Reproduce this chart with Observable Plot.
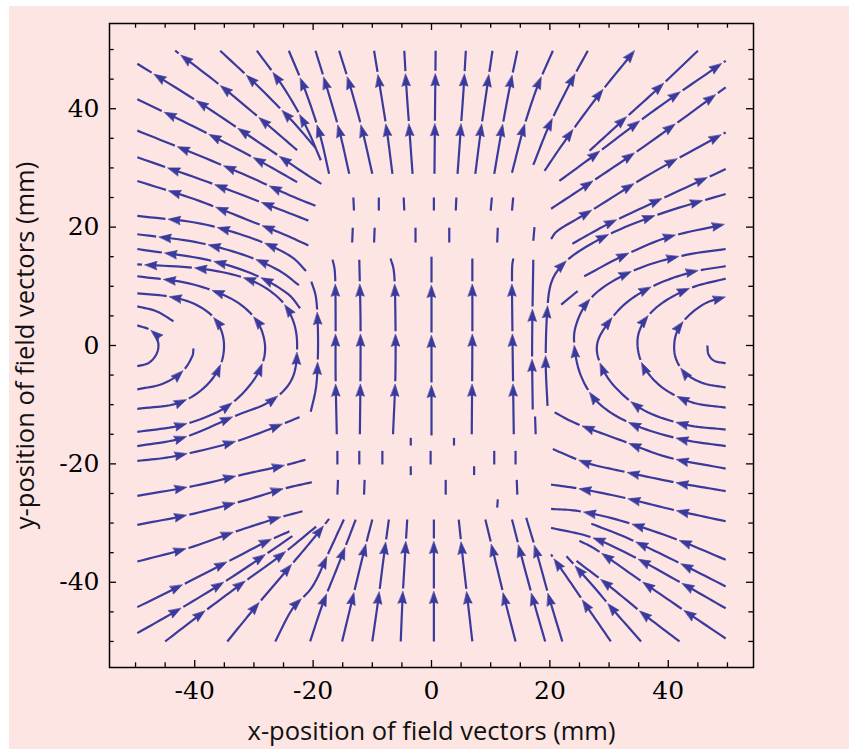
<!DOCTYPE html>
<html><head><meta charset="utf-8">
<script src="https://cdn.jsdelivr.net/npm/d3@7"></script>
<script src="https://cdn.jsdelivr.net/npm/@observablehq/plot@0.6"></script>
<style>
html,body{margin:0;padding:0;background:#fff;}
#wrap{position:relative;width:849px;height:749px;overflow:hidden;background:#fff;}
#bg{position:absolute;left:9px;top:6px;right:0;bottom:0;background:#fde5e4;}
#chart{position:absolute;left:0;top:0;}
</style></head><body>
<div id="wrap"><div id="bg"></div><div id="chart"></div></div>
<script>
// ---- tick values ----
const allTicks = [-50,-45,-40,-35,-30,-25,-20,-15,-10,-5,0,5,10,15,20,25,30,35,40,45,50];
const majorTicks = [-40,-20,0,20,40];
const xTickLabels = [-40,-20,0,20,40];
const yTickLabels = [-40,-20,0,20,40];
const xTitle = "x-position of field vectors (mm)";
const yTitle = "y-position of field vectors (mm)";

// ---- streamlines (mm), each listed in flow order ----
const centerTop = [
  [[-13.9,29],[-15.5,36],[-17.5,43],[-19.6,49.8]],
  [[-10,29],[-11.6,36],[-13.5,43],[-15.6,49.8]],
  [[-6.6,29],[-7.5,36],[-8.6,43],[-9.7,49.8]],
  [[-3.2,29],[-3.7,36],[-4.2,43],[-4.6,49.8]],
  [[0.5,29],[0.6,40],[0.7,49.8]],
  [[4.4,29],[4.9,36],[5.4,43],[5.8,49.8]],
  [[7.4,29],[8.3,36],[9.3,43],[10.3,49.8]],
  [[10.6,29],[11.8,36],[13.1,43],[14.5,49.8]],
  [[13.6,29.2],[15.5,36.5],[17.8,43.5],[20.5,49.8]]
];
const centerMiddle = [
  [[-20.4,-11.2],[-19.5,-7],[-19.2,-2],[-19.2,3],[-19.5,8],[-20.3,10.8]],
  [[-16,-15],[-16.2,-5],[-16.2,5],[-16.3,12],[-16.7,14.5]],
  [[-12.1,-15],[-12,-5],[-12,5],[-12.2,14.5]],
  [[-6.5,-15],[-6.1,-5],[-6.1,5],[-6.3,12],[-6.9,14.7]],
  [[0,-15.2],[0,0],[0,15]],
  [[6.8,-15],[6.9,0],[6.9,14.7]],
  [[13.9,-15],[13.7,0],[13.6,12],[13.8,14.7]],
  [[17.1,-10.8],[17,0],[17.2,14.5]],
  [[19.6,-10.2],[19.3,-3],[19.5,5],[20.2,10.5],[22.3,13.8],[26,16.6],[32,19.7],[40,22.7],[49.7,25.6]]
];
const centerBottom = [
  [[-15.1,-50],[-13.4,-43],[-11.7,-36],[-10,-29.4]],
  [[-10,-50],[-9,-43],[-8.1,-36],[-7.2,-29.4]],
  [[-5.2,-50],[-4.9,-43],[-4.5,-36],[-4.1,-29.4]],
  [[0.4,-50],[0.4,-29.4]],
  [[6.9,-50],[6.1,-43],[5.3,-36],[4.6,-29.4]],
  [[14.2,-50],[12.4,-43],[10.7,-36],[9.1,-29.4]],
  [[19.2,-50],[17.2,-43],[15.3,-36],[13.6,-29.4]],
  [[22.1,-50],[20,-43],[18,-35.8],[16,-29.1]]
];
const leftArcs = [
  [[-49.7,-3.5],[-47.7,-2.9],[-46.4,-1.3],[-46.2,0.6],[-47.3,2.5],[-49.7,3.4]],
  [[-49.7,-7.4],[-45.5,-6.5],[-42.2,-4.5],[-40.5,-2],[-40.2,-0.5]],
  [[-43.6,4.1],[-46.5,5.8],[-49.7,6.6]],
  [[-49.7,-10.7],[-43,-9.8],[-38.5,-7.2],[-35.7,-3.4],[-35.1,0.8],[-36.6,4.5],[-40,7],[-44.5,8.3],[-49.7,8.8]],
  [[-49.7,-14.6],[-42,-13.4],[-35,-10.6],[-30.6,-6.6],[-28.4,-2.5],[-28.3,1.2],[-30,4.8],[-34,8],[-41,10.5],[-49.7,11.7]],
  [[-49.7,-17],[-42,-15.6],[-33.4,-12],[-27,-9.3],[-23.5,-5.5],[-22.7,0],[-23.5,4.5],[-26,8.2],[-31,11.2],[-39,13],[-49.7,13.7]],
  [[-49.7,-19.5],[-43.3,-18.7],[-33.7,-16.4],[-27,-14],[-22.3,-12.1]]
];
const rightArcs = [
  [[49.7,-3],[47.8,-2.6],[46.8,-1.5],[46.6,0]],
  [[49.7,-7.1],[46,-6.4],[43,-4.8],[41.4,-2.5],[41,0],[41.6,2.6],[43.5,5.1],[46.4,7.2],[49.7,8.2]],
  [[49.7,-10.5],[44,-9.6],[39,-7.1],[35.7,-3.3],[34.8,0.8],[36,4.2],[39,7.2],[44,9.8],[49.7,11.3]],
  [[49.7,-14.2],[43,-13.4],[36,-11],[31,-7],[28.5,-3],[28,0.3],[29.7,3.6],[33,7.3],[38,10.3],[44,12.4],[49.7,13.4]],
  [[49.7,-17],[42,-15.8],[34,-13.3],[28.3,-9.8],[25.2,-5],[24.1,0.5],[24.6,4],[26.5,7.5],[30,10.5],[36,13.4],[43,15.3],[49.7,16.3]],
  [[49.7,-20.8],[40,-18.9],[31.7,-15.9],[24.5,-13.2],[20.8,-11.3]]
];
const upperLeftFan = [
  [[-17.3,29],[-18.9,35.8],[-21.3,43],[-24.1,49.8]],
  [[-18.7,31.3],[-21.3,37.2],[-25,43.6],[-29.5,49.8]],
  [[-19.6,33.4],[-23.6,38],[-29.3,43.8],[-35.7,49.8]],
  [[-22.7,33],[-29,38.4],[-36,44.2],[-43.3,49.8]],
  [[-18.6,27.3],[-21.6,29.2],[-29,34.2],[-39,40.9],[-49.7,47.6]],
  [[-22.7,27.6],[-30,31.7],[-40,36.9],[-49.7,41.6]],
  [[-19.6,23.6],[-24,25.4],[-31,28.6],[-40,32.4],[-49.7,36.3]],
  [[-20.8,21.1],[-28,23.9],[-38,27.7],[-49.7,31.8]],
  [[-20.8,16.9],[-25,18.8],[-32,21.6],[-40,24.7],[-49.7,27.8]],
  [[-21.2,12.6],[-24,15.2],[-30,18],[-39,20.6],[-49.7,21.9]],
  [[-22.4,10.2],[-26,12.8],[-32,15.4],[-40,17.5],[-49.7,18.8]],
  [[-22.2,6.3],[-24.5,8.9],[-30,12],[-38,14.5],[-49.7,16.3]]
];
const lowerLeftFan = [
  [[-49.7,-25.4],[-40,-23.7],[-31,-21.6],[-25,-20.3],[-21.3,-19.3]],
  [[-49.7,-30.3],[-41,-28.6],[-32,-26.3],[-25,-24.2],[-20.2,-23.1]],
  [[-49.7,-36.5],[-41,-34.2],[-33,-31.4],[-26.5,-29.3],[-21.8,-28]],
  [[-49.7,-44.2],[-42,-40.4],[-34,-36.3],[-28,-33.2],[-24,-31.4]],
  [[-49.7,-48.6],[-42,-44.2],[-34,-39.3],[-27,-34.6],[-23.5,-32.2]],
  [[-45,-50],[-39,-45.4],[-32,-40.2],[-25.5,-35.5],[-19.5,-30.6]],
  [[-34.5,-50],[-30,-44.5],[-25,-38.6],[-20.1,-32.8],[-17.3,-29.3]],
  [[-26.4,-50],[-23.5,-44.5],[-20.1,-40.7],[-17.2,-34.6],[-14.8,-29.4]],
  [[-20.5,-50],[-18.5,-44],[-15.8,-37.2],[-12.8,-29.4]]
];
const upperRightFan = [
  [[17.2,30.5],[19.8,37],[23,43.5],[26.4,49.8]],
  [[19.1,29.5],[22.5,34.5],[28,42],[34.3,49.8]],
  [[26.7,32.9],[32.5,38.2],[38.8,43.9],[45,49.8]],
  [[21.6,27.8],[28,32.5],[38,40],[49.7,48.1]],
  [[20.2,23.1],[27,27.6],[37,34.4],[49.7,43.6]],
  [[20.2,18],[21.6,19.6],[27,22.8],[37,29],[49.7,36]],
  [[23.8,17.2],[30,20.6],[40,25.3],[49.7,29.8]],
  [[25.8,11.7],[32.3,15.1],[40,18.3],[49.7,20.5]]
];
const lowerRightFan = [
  [[49.7,-24.6],[41,-23.1],[32,-21.2],[26.1,-19.8],[20.5,-17.5]],
  [[49.7,-29.7],[41,-27.8],[32,-25.6],[25,-24.2],[20.2,-23.5]],
  [[49.7,-36.2],[41,-32.6],[32,-29.6],[25,-28],[20.2,-27.6]],
  [[49.7,-40.7],[41,-36.3],[33,-32.5],[27,-30.1]],
  [[49.7,-44.4],[42,-40],[34,-35.6],[27,-32.4],[20.2,-30.8]],
  [[49.7,-49.5],[42,-44.3],[34,-38.8],[28,-34.6],[25,-33]],
  [[41.9,-50],[36,-45.5],[30,-40.6],[24.5,-36.4]],
  [[35.4,-50],[31,-45],[27,-40.3],[22.8,-35.6]],
  [[30.3,-50],[27,-45.2],[23.6,-40.2],[20.2,-35.3]]
];
const fragments = [
  [[-13.1,22.8],[-13.2,25]],[[-8.9,22.8],[-8.9,25]],[[-4.6,22.8],[-4.7,25]],[[0.4,22.8],[0.4,25]],
  [[4.1,22.8],[4.2,25]],[[10,22.8],[10.2,25]],[[13.6,22.8],[13.8,25]],
  [[-13.4,17.4],[-13.3,19.9]],[[-9.7,17.4],[-9.6,19.9]],[[-2.7,17.4],[-2.7,19.9]],[[3,17.4],[3,19.9]],
  [[11.1,17.4],[11.2,19.9]],[[17.2,17.7],[17.4,20]],[[21.9,6.9],[24.7,9.2]],
  [[-15.9,-20.1],[-15.9,-17.8]],[[-12.2,-20.1],[-12.2,-17.8]],[[-8.3,-20.1],[-8.3,-17.8]],
  [[-0.15,-20.1],[-0.15,-17.8]],[[10.6,-20.1],[10.6,-17.8]],[[14.2,-20.1],[14.2,-17.8]],
  [[-15.9,-25.2],[-15.8,-22.7]],[[-11.4,-25.2],[-11.3,-22.7]],[[2.4,-25.2],[2.4,-22.7]],[[14.5,-25.2],[14.4,-22.7]],
  [[-3.5,-21.9],[-3.5,-20.4]],[[7.2,-21.9],[7.2,-20.4]],[[11.1,-27.4],[11.2,-26]],
  [[-3.5,-16.9],[-3.5,-15.6]],[[3.8,-16.9],[3.8,-15.6]],[[17.6,-15],[17.5,-12]]
];

// ---- layout / style ----
const W = 849, H = 749;
const M = {left: 109, right: 96, top: 23, bottom: 82};
const DOM = [-54.4, 54.4];
const COLOR = "#3a3a9c";
const PERIOD = 50, GAP = 3;
const pxPerUnit = (W - M.left - M.right) / (DOM[1] - DOM[0]);
const innerH = H - M.top - M.bottom;

function cr(p0, p1, p2, p3, t) {
  const t2 = t*t, t3 = t2*t;
  return [0,1].map(k => 0.5*((2*p1[k]) + (-p0[k]+p2[k])*t + (2*p0[k]-5*p1[k]+4*p2[k]-p3[k])*t2 + (-p0[k]+3*p1[k]-3*p2[k]+p3[k])*t3));
}
function smooth(pts, n = 10) {
  const out = [];
  for (let i = 0; i < pts.length - 1; i++) {
    const p1 = pts[i], p2 = pts[i+1];
    const p0 = i > 0 ? pts[i-1] : [2*p1[0]-p2[0], 2*p1[1]-p2[1]];
    const p3 = i + 2 < pts.length ? pts[i+2] : [2*p2[0]-p1[0], 2*p2[1]-p1[1]];
    for (let j = 0; j < n; j++) out.push(cr(p0, p1, p2, p3, j/n));
  }
  out.push(pts[pts.length-1]);
  return out;
}

const dashRows = [], arrowRows = [];
let nextId = 0;
function addLine(pts, arrows = true) {
  const d = smooth(pts);
  const cum = [0];
  for (let i = 1; i < d.length; i++) cum.push(cum[i-1] + Math.hypot(d[i][0]-d[i-1][0], d[i][1]-d[i-1][1]) * pxPerUnit);
  const L = cum[cum.length-1];
  const at = s => {
    let i = d3.bisectRight(cum, s) - 1;
    i = Math.max(0, Math.min(i, d.length - 2));
    const seg = cum[i+1] - cum[i] || 1;
    const t = (s - cum[i]) / seg;
    return [d[i][0] + t*(d[i+1][0]-d[i][0]), d[i][1] + t*(d[i+1][1]-d[i][1])];
  };
  const pushDash = (s0, s1) => {
    if (s1 - s0 < 0.8) return;
    const k = nextId++;
    const a = at(s0); dashRows.push({x: a[0], y: a[1], k});
    for (let i = 0; i < d.length; i++) if (cum[i] > s0 && cum[i] < s1) dashRows.push({x: d[i][0], y: d[i][1], k});
    const b = at(s1); dashRows.push({x: b[0], y: b[1], k});
  };
  let start = 0;
  if (arrows) {
    for (let s = PERIOD; s <= L + 0.01; s += PERIOD) {
      pushDash(start, s - 3);
      const a = at(s), b = at(Math.max(0, s - 2));
      arrowRows.push({x: a[0], y: a[1], rotate: Math.atan2(a[0]-b[0], a[1]-b[1]) * 180 / Math.PI});
      start = s + GAP;
    }
  }
  if (start < L) pushDash(start, L);
}
[centerTop, centerMiddle, centerBottom, leftArcs, rightArcs, upperLeftFan, lowerLeftFan, upperRightFan, lowerRightFan]
  .forEach(group => group.forEach(l => addLine(l, true)));
fragments.forEach(l => addLine(l, false));

const arrowShape = {
  draw(ctx, l) {
    const w = 4.2;
    ctx.moveTo(0, -l);
    ctx.lineTo(w, 0);
    ctx.lineTo(0, -l * 0.12);
    ctx.lineTo(-w, 0);
    ctx.closePath();
  }
};
const minorTicks = allTicks.filter(t => !majorTicks.includes(t));
const TMIN = 4.7, TMAJ = 7;

const chart = Plot.plot({
  width: W, height: H,
  marginLeft: M.left, marginRight: M.right, marginTop: M.top, marginBottom: M.bottom,
  x: {domain: DOM}, y: {domain: DOM},
  style: {background: "transparent", fontFamily: "DejaVu Serif", fontSize: "25px", color: "black", overflow: "visible"},
  marks: [
    Plot.line(dashRows, {x: "x", y: "y", z: "k", stroke: COLOR, strokeWidth: 2.2, curve: "linear", strokeLinecap: "butt"}),
    Plot.vector(arrowRows, {x: "x", y: "y", rotate: "rotate", length: 12, anchor: "end", shape: arrowShape, fill: COLOR, stroke: COLOR, strokeWidth: 0.6}),
    Plot.frame({stroke: "black", strokeWidth: 1.5}),
    Plot.tickX(minorTicks, {x: d => d, stroke: "black", strokeWidth: 1.3, insetTop: innerH - TMIN}),
    Plot.tickX(majorTicks, {x: d => d, stroke: "black", strokeWidth: 1.3, insetTop: innerH - TMAJ}),
    Plot.tickX(minorTicks, {x: d => d, stroke: "black", strokeWidth: 1.3, insetBottom: innerH - TMIN}),
    Plot.tickX(majorTicks, {x: d => d, stroke: "black", strokeWidth: 1.3, insetBottom: innerH - TMAJ}),
    Plot.tickY(minorTicks, {y: d => d, stroke: "black", strokeWidth: 1.3, insetRight: innerH - TMIN}),
    Plot.tickY(majorTicks, {y: d => d, stroke: "black", strokeWidth: 1.3, insetRight: innerH - TMAJ}),
    Plot.tickY(minorTicks, {y: d => d, stroke: "black", strokeWidth: 1.3, insetLeft: innerH - TMIN}),
    Plot.tickY(majorTicks, {y: d => d, stroke: "black", strokeWidth: 1.3, insetLeft: innerH - TMAJ}),
    Plot.axisX(xTickLabels, {tickSize: 0, tickPadding: 14, fontSize: 25, label: null, tickFormat: d => String(d)}),
    Plot.axisY(yTickLabels, {tickSize: 0, tickPadding: 10, fontSize: 25, label: null, tickFormat: d => String(d)}),
    Plot.text([xTitle], {text: d => d, frameAnchor: "bottom", textAnchor: "middle", lineAnchor: "middle", dy: 64, fontSize: 25.5, fontFamily: "Open Sans", fill: "#111"}),
    Plot.text([yTitle], {text: d => d, frameAnchor: "left", textAnchor: "middle", lineAnchor: "middle", dx: -84, rotate: -90, fontSize: 25.5, fontFamily: "Open Sans", fill: "#111"})
  ]
});
document.getElementById("chart").appendChild(chart);
</script>
</body></html>
